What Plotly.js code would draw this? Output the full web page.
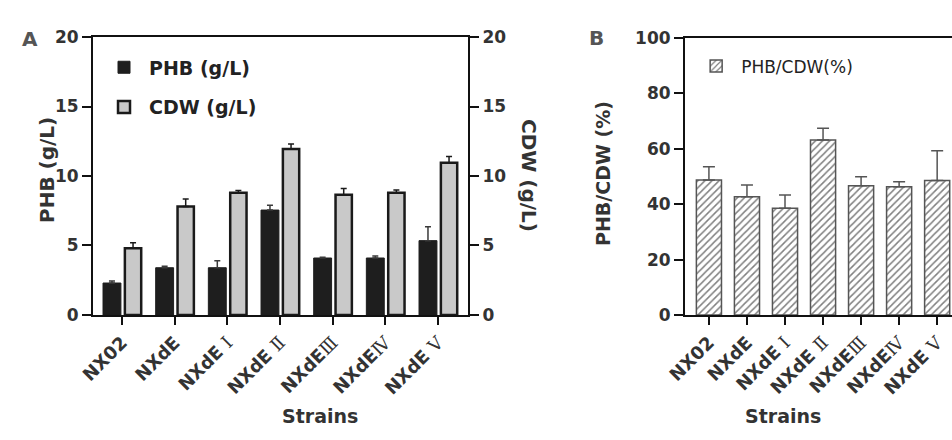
<!DOCTYPE html>
<html>
<head>
<meta charset="utf-8">
<script src="https://cdn.plot.ly/plotly-3.0.1.min.js"></script>
<style>html,body{margin:0;padding:0;background:#fff;}#chart{width:952px;height:440px;}</style>
</head>
<body>
<div id="chart"></div>
<script>
// ---- data ----
const strains = ['NX02', 'NXdE', 'NXdE \u2160', 'NXdE \u2161', 'NXdE\u2162', 'NXdE\u2163', 'NXdE \u2164'];
const tickText = ['NX02', 'NXdE',
  'NXdE <span style="font-family:\'DejaVu Serif\';font-weight:normal">\u2160</span>',
  'NXdE <span style="font-family:\'DejaVu Serif\';font-weight:normal">\u2161</span>',
  'NXdE<span style="font-family:\'DejaVu Serif\';font-weight:normal">\u2162</span>',
  'NXdE<span style="font-family:\'DejaVu Serif\';font-weight:normal">\u2163</span>',
  'NXdE <span style="font-family:\'DejaVu Serif\';font-weight:normal">\u2164</span>'];
const phb = [2.3, 3.4, 3.4, 7.55, 4.1, 4.1, 5.35];
const phbErr = [0.15, 0.1, 0.5, 0.35, 0.05, 0.15, 1.0];
const cdw = [4.8, 7.8, 8.8, 11.95, 8.65, 8.8, 10.95];
const cdwErr = [0.4, 0.55, 0.15, 0.35, 0.45, 0.2, 0.45];
const ratio = [48.7, 42.7, 38.5, 63.2, 46.7, 46.3, 48.6];
const ratioErr = [4.8, 4.2, 4.8, 4.2, 3.2, 1.8, 10.7];
const yTicksA = [0, 5, 10, 15, 20];
const yTicksB = [0, 20, 40, 60, 80, 100];

const FONT = 'DejaVu Sans, Liberation Sans, Arial, sans-serif';
const TXT = '#333333';
const zeros = strains.map(() => 0);

const traces = [
  {
    type: 'bar', name: 'PHB (g/L)', x: strains, y: phb,
    xaxis: 'x', yaxis: 'y', width: 0.34, offset: -0.36,
    marker: { color: '#1e1e1e', line: { color: '#1e1e1e', width: 1 } },
    error_y: { type: 'data', symmetric: false, array: phbErr, arrayminus: zeros, color: '#3a3a3a', thickness: 1.5, width: 3 },
    legend: 'legend', legendgroup: 'a1'
  },
  {
    type: 'bar', name: 'CDW (g/L)', x: strains, y: cdw,
    xaxis: 'x', yaxis: 'y2', width: 0.31, offset: 0.055,
    marker: { color: '#c9c9c9', line: { color: '#1a1a1a', width: 2.5 } },
    error_y: { type: 'data', symmetric: false, array: cdwErr, arrayminus: zeros, color: '#1a1a1a', thickness: 1.5, width: 3 },
    legend: 'legend', legendgroup: 'a2'
  },
  {
    type: 'bar', name: 'PHB/CDW(%)', x: strains, y: ratio,
    xaxis: 'x3', yaxis: 'y3', width: 0.66,
    marker: { color: '#cfcfcf', line: { color: '#555555', width: 1.5 },
      pattern: { shape: '/', fgcolor: '#808080', size: 5, solidity: 0.3 } },
    error_y: { type: 'data', symmetric: false, array: ratioErr, arrayminus: zeros, color: '#555555', thickness: 1.5, width: 6 },
    legend: 'legend2'
  }
];

const axisLine = { showline: true, linecolor: '#111111', linewidth: 2, ticks: 'outside', ticklen: 9, tickwidth: 2, tickcolor: '#111111', zeroline: false, showgrid: false };
const tickFontY = { family: FONT, size: 17, color: TXT, weight: 'bold' };
const tickFontX = { family: FONT, size: 18, color: TXT, weight: 'bold' };

const layout = {
  width: 952, height: 440, autosize: false,
  margin: { l: 0, r: 0, t: 0, b: 0 },
  paper_bgcolor: '#ffffff', plot_bgcolor: 'rgba(0,0,0,0)',
  barmode: 'overlay',
  xaxis: Object.assign({}, axisLine, { domain: [0.0977, 0.4916], anchor: 'y', range: [-0.55, 6.57], mirror: true, tickangle: -45, tickfont: tickFontX, tickvals: strains, ticktext: tickText, ticklen: 8 }),
  yaxis: Object.assign({}, axisLine, { domain: [0.2841, 0.9159], anchor: 'x', range: [0, 20], tickvals: yTicksA, tickfont: tickFontY }),
  yaxis2: Object.assign({}, axisLine, { overlaying: 'y', side: 'right', anchor: 'x', range: [0, 20], tickvals: yTicksA, tickfont: tickFontY }),
  xaxis3: Object.assign({}, axisLine, { domain: [0.7195, 1], anchor: 'y3', range: [-0.63, 6.39], mirror: true, tickangle: -45, tickfont: tickFontX, tickvals: strains, ticktext: tickText, ticklen: 8 }),
  yaxis3: Object.assign({}, axisLine, { domain: [0.2841, 0.9136], anchor: 'x3', range: [0, 100], tickvals: yTicksB, tickfont: tickFontY }),
  legend: { x: 0.104, y: 0.89, xanchor: 'left', yanchor: 'top', bgcolor: 'rgba(0,0,0,0)', traceorder: 'grouped', tracegroupgap: 12, itemwidth: 40,
    font: { family: FONT, size: 19, color: '#222222', weight: 'bold' } },
  legend2: { x: 0.726, y: 0.89, xanchor: 'left', yanchor: 'top', bgcolor: 'rgba(0,0,0,0)', itemwidth: 40,
    font: { family: FONT, size: 17, color: '#222222' } },
  showlegend: true,
  annotations: [
    { text: 'A', xref: 'paper', yref: 'paper', x: 20 / 952, y: 1 - 25 / 440, showarrow: false, font: { family: FONT, size: 20, color: '#555555', weight: 'bold' } },
    { text: 'B', xref: 'paper', yref: 'paper', x: 596 / 952, y: 1 - 24 / 440, showarrow: false, font: { family: FONT, size: 20, color: '#555555', weight: 'bold' } },
    { text: 'PHB (g/L)', xref: 'paper', yref: 'paper', x: 33 / 952, y: 1 - 170 / 440, textangle: -90, showarrow: false, font: { family: FONT, size: 20, color: TXT, weight: 'bold' } },
    { text: 'CDW (g/L)', xref: 'paper', yref: 'paper', x: 529 / 952, y: 1 - 175 / 440, textangle: 90, showarrow: false, font: { family: FONT, size: 20, color: TXT, weight: 'bold' } },
    { text: 'PHB/CDW (%)', xref: 'paper', yref: 'paper', x: 603 / 952, y: 1 - 174 / 440, textangle: -90, showarrow: false, font: { family: FONT, size: 19, color: TXT, weight: 'bold' } },
    { text: 'Strains', xref: 'paper', yref: 'paper', x: 280 / 952, y: 1 - 429 / 440, showarrow: false, font: { family: FONT, size: 19, color: TXT, weight: 'bold' } },
    { text: 'Strains', xref: 'paper', yref: 'paper', x: 823 / 952, y: 1 - 429 / 440, showarrow: false, font: { family: FONT, size: 19, color: TXT, weight: 'bold' } }
  ]
};

Plotly.newPlot('chart', traces, layout, { staticPlot: true, displayModeBar: false });
</script>
</body>
</html>
